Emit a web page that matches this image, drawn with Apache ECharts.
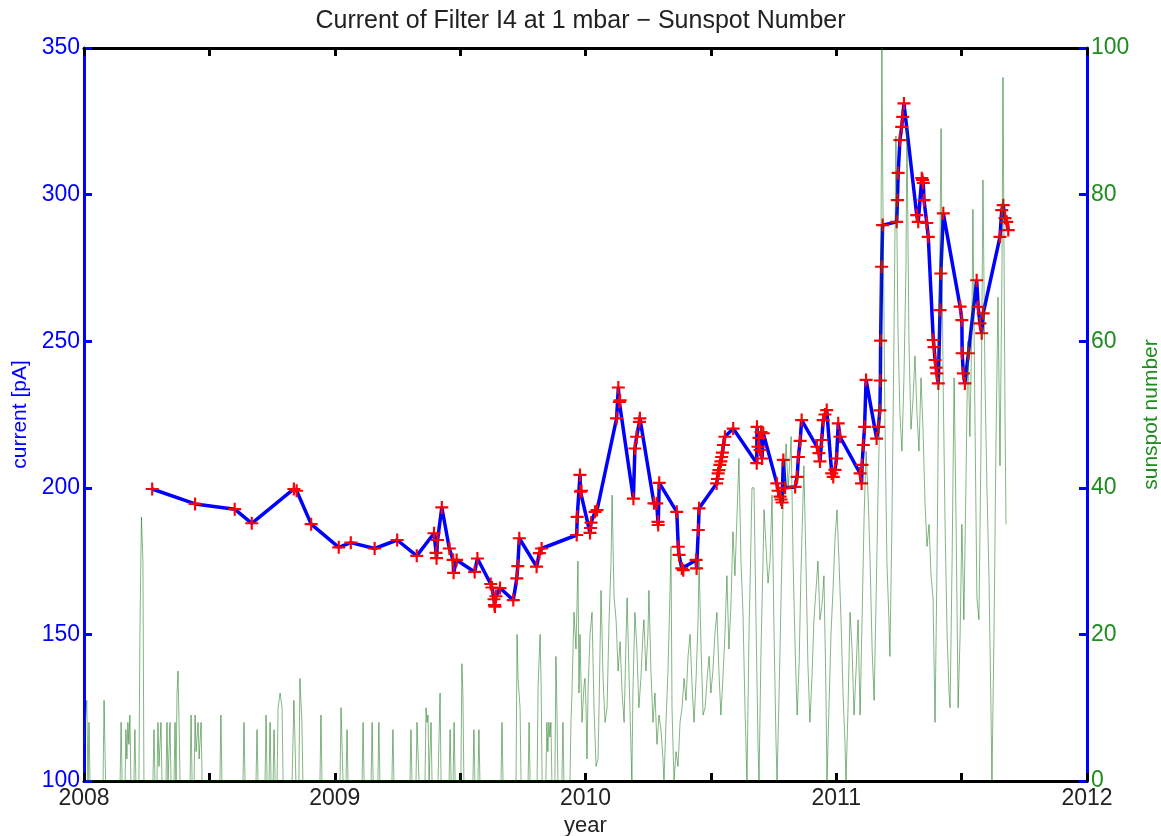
<!DOCTYPE html>
<html>
<head>
<meta charset="utf-8">
<script src="https://cdn.jsdelivr.net/npm/echarts@6/dist/echarts.min.js"></script>
<style>
html,body{margin:0;padding:0;background:#fff;}
#chart{width:1161px;height:836px;}
</style>
</head>
<body>
<div id="chart"></div>
<script>
// Filter I4 current (pA) vs. decimal year
const currentYear = [2008.272,2008.443,2008.601,2008.669,2008.837,2008.848,2008.906,2009.016,2009.064,2009.159,2009.249,2009.327,2009.396,2009.404,2009.406,2009.410,2009.427,2009.457,2009.472,2009.474,2009.486,2009.558,2009.569,2009.622,2009.627,2009.635,2009.637,2009.639,2009.643,2009.659,2009.712,2009.726,2009.730,2009.736,2009.805,2009.816,2009.825,2009.965,2009.967,2009.978,2009.980,2009.984,2010.018,2010.020,2010.022,2010.038,2010.046,2010.124,2010.131,2010.135,2010.138,2010.191,2010.197,2010.204,2010.215,2010.217,2010.273,2010.284,2010.289,2010.290,2010.294,2010.364,2010.370,2010.373,2010.384,2010.390,2010.441,2010.443,2010.450,2010.453,2010.523,2010.526,2010.529,2010.532,2010.536,2010.540,2010.543,2010.546,2010.550,2010.556,2010.589,2010.683,2010.684,2010.688,2010.692,2010.696,2010.700,2010.704,2010.709,2010.763,2010.768,2010.776,2010.780,2010.784,2010.789,2010.796,2010.836,2010.844,2010.849,2010.856,2010.862,2010.923,2010.931,2010.935,2010.942,2010.948,2010.955,2010.962,2010.982,2010.988,2010.995,2011.001,2011.008,2011.015,2011.095,2011.101,2011.103,2011.108,2011.113,2011.119,2011.161,2011.168,2011.174,2011.176,2011.177,2011.181,2011.185,2011.241,2011.244,2011.247,2011.254,2011.261,2011.265,2011.270,2011.321,2011.327,2011.341,2011.344,2011.347,2011.350,2011.361,2011.367,2011.387,2011.390,2011.394,2011.398,2011.401,2011.407,2011.414,2011.417,2011.427,2011.494,2011.501,2011.502,2011.507,2011.513,2011.527,2011.560,2011.566,2011.573,2011.580,2011.586,2011.653,2011.660,2011.666,2011.673,2011.680,2011.686];
const currentPA = [199.6,194.5,192.7,187.9,199.6,199.0,187.6,179.7,181.3,179.3,182.2,176.8,184.5,177.8,176.0,182.2,193.3,179.3,175.4,171.0,175.4,171.3,175.9,167.2,166.0,162.0,160.0,159.5,163.0,165.8,161.7,169.1,173.3,182.8,173.1,177.7,179.3,183.9,190.1,204.4,198.7,199.0,184.6,186.3,188.1,191.8,192.4,223.7,234.2,229.3,229.8,196.3,213.4,217.4,222.5,223.7,194.7,194.7,188.4,187.3,201.7,191.8,179.9,177.1,172.5,171.9,175.4,172.5,185.6,193.0,201.5,203.0,204.9,206.0,207.8,209.0,210.5,212.0,214.6,217.4,220.2,208.4,220.8,214.0,217.0,212.9,219.0,210.0,218.6,201.5,199.0,197.0,196.0,195.0,209.5,200.0,200.3,203.7,210.5,216.0,223.1,214.0,211.8,209.0,216.3,223.1,225.0,226.5,204.9,203.7,206.1,210.0,222.0,217.4,204.9,201.5,207.8,214.6,220.8,236.8,216.8,220.8,226.4,236.6,250.2,275.4,289.6,290.7,298.1,307.4,318.6,323.1,326.5,331.1,293.0,290.7,305.6,305.0,304.0,298.1,290.3,285.6,250.4,248.0,243.6,241.0,239.0,235.6,260.6,273.1,293.6,261.8,257.2,245.9,239.0,235.6,245.9,270.8,261.7,256.1,252.7,259.5,285.6,294.7,296.4,292.0,290.7,287.9];

// Daily sunspot number, [decimal year, count]
const sunspot = [
[2008.000,5],[2008.011,11],[2008.016,0],[2008.020,8],[2008.024,0],[2008.076,0],[2008.080,11],[2008.086,0],
[2008.144,0],[2008.148,8],[2008.152,0],[2008.164,0],[2008.167,7],[2008.171,3],[2008.175,8],[2008.179,5],[2008.183,9],[2008.187,0],
[2008.199,0],[2008.203,7],[2008.207,0],[2008.219,0],[2008.223,20],[2008.229,36],[2008.235,30],[2008.239,0],
[2008.275,0],[2008.279,7],[2008.283,0],[2008.291,0],[2008.295,8],[2008.299,2],[2008.307,8],[2008.311,0],
[2008.327,0],[2008.331,8],[2008.335,0],[2008.339,0],[2008.343,8],[2008.347,0],[2008.359,0],[2008.363,8],[2008.367,0],
[2008.371,12],[2008.375,15],[2008.379,8],[2008.383,0],[2008.423,0],[2008.427,9],[2008.431,0],[2008.439,0],[2008.443,9],
[2008.447,4],[2008.455,8],[2008.459,3],[2008.467,8],[2008.471,0],[2008.542,0],[2008.546,9],[2008.550,0],
[2008.634,0],[2008.638,8],[2008.642,0],[2008.686,0],[2008.690,7],[2008.694,0],[2008.722,0],[2008.726,9],[2008.730,0],
[2008.738,0],[2008.742,8],[2008.746,0],[2008.754,0],[2008.758,7],[2008.762,0],[2008.770,0],[2008.774,10],[2008.782,12],
[2008.790,10],[2008.794,0],[2008.830,0],[2008.837,11],[2008.841,6],[2008.845,0],[2008.857,0],[2008.861,14],[2008.869,8],
[2008.873,0],[2008.941,0],[2008.945,9],[2008.949,0],
[2009.021,0],[2009.025,10],[2009.029,5],[2009.033,0],[2009.045,0],[2009.049,7],[2009.053,0],[2009.109,0],[2009.113,8],[2009.117,0],
[2009.145,0],[2009.149,8],[2009.153,0],[2009.172,0],[2009.176,8],[2009.180,0],[2009.228,0],[2009.232,7],[2009.236,0],
[2009.300,0],[2009.304,7],[2009.308,0],[2009.324,0],[2009.328,8],[2009.332,4],[2009.336,0],[2009.360,0],[2009.364,10],
[2009.368,8],[2009.372,9],[2009.376,0],[2009.380,0],[2009.384,8],[2009.388,0],[2009.412,0],[2009.420,12],[2009.424,0],
[2009.456,0],[2009.460,7],[2009.464,0],[2009.472,0],[2009.476,8],[2009.480,0],[2009.503,0],[2009.507,16],[2009.511,12],[2009.515,0],
[2009.551,0],[2009.555,7],[2009.559,0],[2009.571,0],[2009.575,7],[2009.579,0],[2009.663,0],[2009.667,8],[2009.671,0],
[2009.723,0],[2009.727,20],[2009.731,14],[2009.739,10],[2009.743,0],[2009.771,0],[2009.775,8],[2009.779,0],
[2009.807,0],[2009.811,13],[2009.819,20],[2009.823,13],[2009.827,0],[2009.842,0],[2009.846,8],[2009.850,4],[2009.854,8],
[2009.858,6],[2009.862,8],[2009.866,0],[2009.878,0],[2009.882,17],[2009.886,10],[2009.890,0],[2009.906,0],[2009.910,8],[2009.914,0],
[2009.938,0],[2009.942,8],[2009.946,12],[2009.954,23],[2009.962,18],[2009.970,30],[2009.974,12],[2009.978,20],[2009.986,8],
[2009.994,13],[2009.998,14],
[2010.002,10],[2010.006,3],[2010.010,12],[2010.018,20],[2010.026,23],[2010.034,10],[2010.042,2],[2010.050,3],[2010.054,10],
[2010.062,26],[2010.070,14],[2010.078,8],[2010.086,10],[2010.094,22],[2010.102,30],[2010.106,39],[2010.114,25],[2010.122,22],
[2010.130,15],[2010.138,19],[2010.146,12],[2010.154,8],[2010.162,20],[2010.166,25],[2010.174,14],[2010.181,5],[2010.185,0],
[2010.189,12],[2010.197,23],[2010.205,18],[2010.213,10],[2010.221,14],[2010.229,20],[2010.233,22],[2010.241,15],[2010.249,20],
[2010.253,26],[2010.261,15],[2010.269,8],[2010.277,12],[2010.285,5],[2010.293,9],[2010.301,7],[2010.309,3],[2010.313,0],
[2010.321,8],[2010.329,15],[2010.337,26],[2010.341,32],[2010.345,10],[2010.353,0],[2010.361,4],[2010.369,2],[2010.377,8],
[2010.385,10],[2010.393,14],[2010.401,11],[2010.409,17],[2010.417,20],[2010.425,13],[2010.433,8],[2010.441,14],[2010.449,22],
[2010.453,30],[2010.461,18],[2010.469,9],[2010.477,10],[2010.485,14],[2010.493,17],[2010.500,12],[2010.508,15],[2010.516,20],
[2010.524,23],[2010.532,15],[2010.540,9],[2010.548,14],[2010.556,20],[2010.564,28],[2010.572,18],[2010.580,24],[2010.588,34],
[2010.596,28],[2010.604,36],[2010.612,44],[2010.620,30],[2010.628,23],[2010.636,10],[2010.644,0],[2010.652,20],[2010.660,33],
[2010.664,40],[2010.672,40],[2010.680,22],[2010.688,5],[2010.692,0],[2010.700,18],[2010.708,30],[2010.712,37],[2010.720,32],
[2010.728,27],[2010.736,30],[2010.744,39],[2010.752,20],[2010.760,5],[2010.764,0],[2010.772,12],[2010.780,25],[2010.788,38],
[2010.800,46],[2010.808,40],[2010.816,44],[2010.820,47],[2010.828,30],[2010.836,18],[2010.844,9],[2010.852,16],[2010.859,28],
[2010.867,38],[2010.871,43],[2010.879,30],[2010.887,16],[2010.895,8],[2010.903,14],[2010.911,22],[2010.919,26],[2010.927,30],
[2010.935,22],[2010.943,24],[2010.951,28],[2010.959,12],[2010.963,0],[2010.971,10],[2010.979,20],[2010.987,26],[2010.995,33],
[2011.003,37],[2011.011,30],[2011.019,22],[2011.027,12],[2011.035,5],[2011.039,0],[2011.047,10],[2011.055,23],[2011.063,18],
[2011.071,9],[2011.079,15],[2011.087,22],[2011.095,9],[2011.103,22],[2011.111,36],[2011.119,45],[2011.127,39],[2011.135,30],
[2011.143,18],[2011.151,11],[2011.159,25],[2011.167,40],[2011.175,52],[2011.178,70],[2011.182,100],[2011.186,80],[2011.194,50],
[2011.202,30],[2011.210,22],[2011.214,17],[2011.222,35],[2011.230,60],[2011.238,88],[2011.246,62],[2011.254,50],[2011.262,45],
[2011.270,55],[2011.278,70],[2011.282,89],[2011.290,60],[2011.298,48],[2011.306,52],[2011.314,58],[2011.322,50],[2011.330,45],
[2011.338,55],[2011.346,48],[2011.354,38],[2011.362,32],[2011.370,35],[2011.378,28],[2011.386,25],[2011.394,8],[2011.402,30],
[2011.410,60],[2011.418,89],[2011.426,55],[2011.434,35],[2011.442,20],[2011.450,12],[2011.454,10],[2011.462,30],[2011.470,55],
[2011.478,35],[2011.486,10],[2011.494,20],[2011.501,35],[2011.509,22],[2011.517,40],[2011.525,60],[2011.533,47],[2011.541,62],
[2011.545,78],[2011.553,50],[2011.561,25],[2011.569,22],[2011.577,45],[2011.585,82],[2011.593,55],[2011.601,40],[2011.609,28],
[2011.617,10],[2011.621,0],[2011.629,20],[2011.637,46],[2011.645,66],[2011.653,43],[2011.661,70],[2011.665,96],[2011.673,50],[2011.677,35]
];

const yearTicks = [2008, 2009, 2010, 2011, 2012];
const currentTicks = [100, 150, 200, 250, 300, 350];
const sunspotTicks = [0, 20, 40, 60, 80, 100];

const FONT = "'Liberation Sans', Arial, sans-serif";
const BLUE = '#0000ff';
const GREEN = '#1e8c1e';

const chart = echarts.init(document.getElementById('chart'), null, {renderer: 'canvas'});
const plus = 'path://M5,0h2v5h5v2h-5v5h-2v-5h-5v-2h5z';

chart.setOption({
  animation: false,
  backgroundColor: '#fff',
  title: {
    text: 'Current of Filter I4 at 1 mbar \u2212 Sunspot Number',
    left: 'center', top: 4,
    textStyle: {fontFamily: FONT, fontSize: 25, fontWeight: 'normal', color: '#222'}
  },
  grid: {left: 84, right: 74, top: 48, bottom: 55, containLabel: false, outerBoundsMode: 'none'},
  xAxis: [{
    type: 'value', position: 'bottom',
    min: yearTicks[0], max: yearTicks[yearTicks.length - 1], interval: 0.5,
    name: 'year', nameLocation: 'middle', nameGap: 32,
    nameTextStyle: {fontFamily: FONT, fontSize: 22, color: '#222'},
    axisLine: {lineStyle: {color: '#000', width: 3}},
    axisTick: {inside: true, length: 8, lineStyle: {color: '#000', width: 3}},
    axisLabel: {fontFamily: FONT, fontSize: 23, color: '#222', margin: 6,
      formatter: v => (yearTicks.indexOf(v) >= 0 ? String(v) : '')},
    splitLine: {show: false}
  }, {
    type: 'value', position: 'top',
    min: yearTicks[0], max: yearTicks[yearTicks.length - 1], interval: 0.5,
    axisLine: {lineStyle: {color: '#000', width: 3}},
    axisTick: {inside: true, length: 8, lineStyle: {color: '#000', width: 3}},
    axisLabel: {show: false},
    splitLine: {show: false}
  }],
  yAxis: [{
    type: 'value', position: 'left',
    min: currentTicks[0], max: currentTicks[currentTicks.length - 1], interval: 50,
    name: 'current [pA]', nameLocation: 'middle', nameGap: 52,
    nameTextStyle: {fontFamily: FONT, fontSize: 21, color: BLUE},
    axisLine: {show: true, lineStyle: {color: BLUE, width: 3}},
    axisTick: {show: true, inside: true, length: 8, lineStyle: {color: BLUE, width: 3}},
    axisLabel: {fontFamily: FONT, fontSize: 23, color: BLUE, margin: 4},
    splitLine: {show: false}
  }, {
    type: 'value', position: 'right',
    min: sunspotTicks[0], max: sunspotTicks[sunspotTicks.length - 1], interval: 20,
    name: 'sunspot number', nameLocation: 'middle', nameGap: 54,
    nameTextStyle: {fontFamily: FONT, fontSize: 21, color: GREEN},
    axisLine: {show: true, lineStyle: {color: BLUE, width: 3}},
    axisTick: {show: true, inside: true, length: 8, lineStyle: {color: BLUE, width: 3}},
    axisLabel: {fontFamily: FONT, fontSize: 23, color: GREEN, margin: 4},
    splitLine: {show: false}
  }],
  series: [{
    type: 'line', name: 'current', xAxisIndex: 0, yAxisIndex: 0, z: 3,
    data: currentYear.map((y, i) => [y, currentPA[i]]),
    lineStyle: {color: BLUE, width: 3.5},
    symbol: plus, symbolSize: 13, showSymbol: true,
    itemStyle: {color: '#ff0000'}
  }, {
    type: 'line', name: 'sunspot', xAxisIndex: 0, yAxisIndex: 1, z: 4,
    data: sunspot, showSymbol: false, symbol: 'none',
    lineStyle: {color: 'rgba(10,110,10,0.5)', width: 1},
    clip: true
  }]
});
</script>
</body>
</html>
